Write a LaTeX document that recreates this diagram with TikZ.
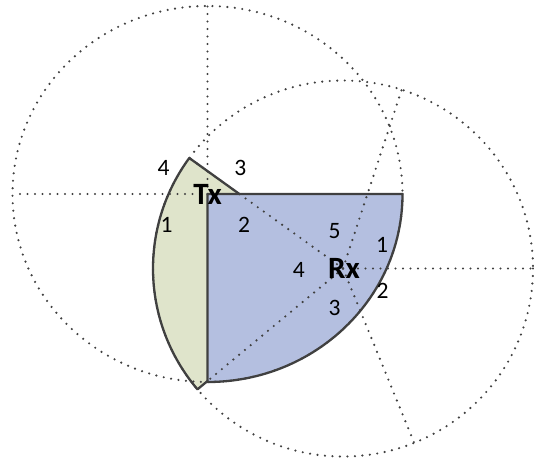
\documentclass[tikz,border=0pt]{standalone}
\usepackage{fontspec}
\setmainfont{Carlito}
\usepackage{xcolor}
\definecolor{beamblue}{HTML}{B4BFE0}
\definecolor{beamgreen}{HTML}{DFE4CB}
\definecolor{edgegray}{HTML}{404040}
\usetikzlibrary{calc}

\begin{document}
\begin{tikzpicture}[x=1pt,y=-1pt,
  guide/.style={edgegray,line width=2.4pt,line cap=round,dash pattern=on 0pt off 7.5pt},
  sector/.style={draw=edgegray,line width=2.3pt,line join=round},
  num/.style={font=\fontsize{23.5}{24}\selectfont,inner sep=0pt},
  ant/.style={font=\fontsize{31}{32}\selectfont\bfseries,inner sep=0pt}]
  \useasboundingbox (0,0) rectangle (534,459);
  \coordinate (tx) at (207.5,194);
  \coordinate (rx) at (343,268.5);
  % Rx sector 4
  \begin{scope}[shift={(rx)}]
    \draw[sector,fill=beamgreen] (0,0) -- (-144:190 and 188)
      arc[start angle=-144,end angle=-220,x radius=190,y radius=188] -- cycle;
  \end{scope}
  % Tx sector 2
  \begin{scope}[shift={(tx)}]
    \draw[sector,fill=beamblue] (0,0) -- (195,0)
      arc[start angle=0,end angle=90,x radius=195,y radius=188] -- cycle;
    \draw[guide] (0,0) ellipse[x radius=195,y radius=188];
    \coordinate (txN) at (0,-188);
    \coordinate (txW) at (-195,0);
    \draw[guide] (tx) -- (txN);
    \draw[guide] (tx) -- (txW);
    \node[ant] (txlabel) at (0,0) {Tx};
    \node[num] (tx1) at (-40.8,31.3) {1};
    \node[num] (tx2) at (36.5,30.7) {2};
    \node[num] (tx3) at (32.8,-26) {3};
    \node[num] (tx4) at (-43.8,-26.5) {4};
  \end{scope}
  % Rx sectors
  \begin{scope}[shift={(rx)}]
    \draw[guide] (0,0) ellipse[x radius=190,y radius=188];
    \foreach \a/\n in {0/a,-72/b,-144/c,140/d,68/e}{
      \coordinate (rx\n) at (\a:190 and 188);
      \draw[guide] (rx) -- (rx\n);
    }
    \node[ant] (rxlabel) at (1,0) {Rx};
    \node[num] (rx1) at (39,-23.8) {1};
    \node[num] (rx2) at (39.5,22.8) {2};
    \node[num] (rx3) at (-8.5,39) {3};
    \node[num] (rx4) at (-44.2,1) {4};
    \node[num] (rx5) at (-8.5,-37.3) {5};
  \end{scope}
\end{tikzpicture}
\end{document}
